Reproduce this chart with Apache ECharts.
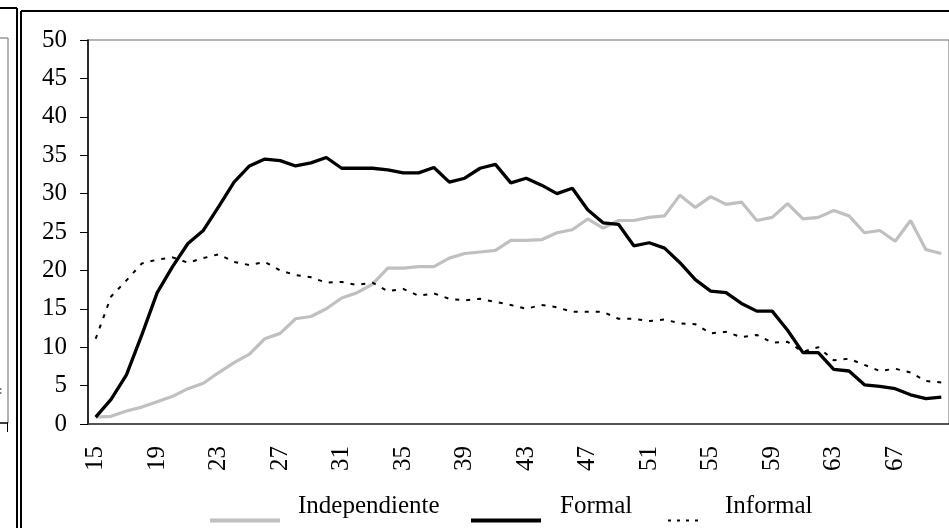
<!DOCTYPE html>
<html>
<head>
<meta charset="utf-8">
<title>Independiente / Formal / Informal por edad</title>
<script src="https://cdn.jsdelivr.net/npm/echarts@6/dist/echarts.min.js"></script>
<style>
  html, body { margin: 0; padding: 0; background: #fff; }
  #chart { width: 949px; height: 528px; }
</style>
</head>
<body>
<div id="chart"></div>
<script>
(function () {

    /* ============ datos (edad 15 a 70) ============ */

    var edades = [];
    for (var e = 15; e <= 70; e++) edades.push(String(e));

    var independiente = [
        0.9, 1.0, 1.7, 2.2, 2.9, 3.6, 4.6, 5.3, 6.7, 8.0,
        9.1, 11.1, 11.8, 13.7, 14.0, 15.0, 16.4, 17.1, 18.2, 20.3,
        20.3, 20.5, 20.5, 21.6, 22.2, 22.4, 22.6, 23.9, 23.9, 24.0,
        24.9, 25.3, 26.7, 25.5, 26.5, 26.5, 26.9, 27.1, 29.8, 28.2,
        29.6, 28.6, 28.9, 26.5, 26.9, 28.7, 26.7, 26.9, 27.8, 27.1,
        24.9, 25.2, 23.8, 26.5, 22.7, 22.2
    ];

    var formal = [
        0.9, 3.2, 6.4, 11.6, 17.1, 20.5, 23.5, 25.2, 28.3, 31.5,
        33.6, 34.5, 34.3, 33.6, 34.0, 34.7, 33.3, 33.3, 33.3, 33.1,
        32.7, 32.7, 33.4, 31.5, 32.0, 33.3, 33.8, 31.4, 32.0, 31.1,
        30.0, 30.7, 27.9, 26.2, 26.0, 23.2, 23.6, 22.9, 21.0, 18.8,
        17.3, 17.1, 15.7, 14.7, 14.7, 12.2, 9.3, 9.3, 7.1, 6.9,
        5.1, 4.9, 4.6, 3.8, 3.3, 3.5
    ];

    var informal = [
        11.1, 16.6, 18.7, 20.9, 21.4, 21.7, 21.0, 21.6, 22.1, 21.1,
        20.7, 21.1, 20.0, 19.4, 19.1, 18.4, 18.5, 18.1, 18.4, 17.3,
        17.6, 16.7, 17.0, 16.3, 16.1, 16.3, 15.9, 15.5, 15.0, 15.5,
        15.2, 14.6, 14.6, 14.6, 13.7, 13.7, 13.4, 13.6, 13.1, 13.0,
        11.8, 12.0, 11.3, 11.6, 10.6, 10.7, 9.4, 10.0, 8.3, 8.5,
        7.7, 6.9, 7.2, 6.7, 5.6, 5.4
    ];

    var FUENTE = "'Liberation Serif', 'Times New Roman', serif";
    var GRIS = '#c0c0c0';

    var myChart = echarts.init(document.getElementById('chart'), null, { renderer: 'canvas' });

    // trazos del marco (restos del panel vecino y doble borde)
    var marco = [
        { x1: 0, y1: 8, x2: 17, y2: 8, c: '#000', w: 2 },
        { x1: 17, y1: 8, x2: 17, y2: 528, c: '#000', w: 2 },
        { x1: 0, y1: 38, x2: 8, y2: 38, c: '#999', w: 1.5 },
        { x1: 8, y1: 38, x2: 8, y2: 423, c: '#999', w: 1.5 },
        { x1: 0, y1: 423, x2: 8, y2: 423, c: '#000', w: 1.5 },
        { x1: 7.5, y1: 423, x2: 7.5, y2: 432, c: '#000', w: 1 },
        { x1: 0, y1: 389, x2: 1.5, y2: 389, c: '#000', w: 1 },
        { x1: 0, y1: 393, x2: 1.5, y2: 393, c: '#000', w: 1 },
        { x1: 21, y1: 11, x2: 949, y2: 11, c: '#000', w: 2 },
        { x1: 21, y1: 11, x2: 21, y2: 528, c: '#000', w: 2 }
    ];

    var graficos = marco.map(function (m) {
        return {
            type: 'line',
            silent: true,
            shape: { x1: m.x1, y1: m.y1, x2: m.x2, y2: m.y2 },
            style: { stroke: m.c, lineWidth: m.w }
        };
    });

    // una leyenda por serie; el texto va subido respecto a la muestra de línea
    var leyenda = function (nombre, left, ancho, padIzq, linea) {
        return {
            data: [nombre],
            left: left,
            top: 494,
            itemWidth: ancho,
            itemHeight: 14,
            padding: 0,
            selectedMode: false,
            itemStyle: { opacity: 0, borderWidth: 0 },
            lineStyle: linea,
            formatter: '{t|{name}}',
            textStyle: {
                rich: {
                    t: {
                        fontFamily: FUENTE,
                        fontSize: 25,
                        color: '#000',
                        padding: [0, 0, 28, padIzq]
                    }
                }
            }
        };
    };

    var option = {
        animation: false,
        backgroundColor: '#fff',
        graphic: graficos,
        legend: [
            leyenda('Independiente', 208, 70, 13, { width: 4 }),
            leyenda('Formal', 469, 70, 14, { width: 4 }),
            leyenda('Informal', 667, 36, 16, { width: 2, type: [3, 6] })
        ],
        grid: {
            left: 88,
            top: 40,
            right: -4,
            bottom: 104,
            show: true,
            borderColor: '#9a9a9a',
            borderWidth: 1.5,
            backgroundColor: 'transparent'
        },
        xAxis: {
            type: 'category',
            data: edades,
            boundaryGap: true,
            axisLine: { lineStyle: { color: '#333', width: 1.5 } },
            axisTick: { interval: 0, length: 7, lineStyle: { color: '#000', width: 1 } },
            axisLabel: {
                interval: 3,
                rotate: 90,
                margin: 22,
                fontFamily: FUENTE,
                fontSize: 25,
                color: '#000'
            },
            splitLine: { show: false }
        },
        yAxis: {
            type: 'value',
            min: 0,
            max: 50,
            interval: 5,
            axisLine: { show: true, lineStyle: { color: '#000', width: 1.5 } },
            axisTick: { show: true, inside: false, length: 8, lineStyle: { color: '#000', width: 1 } },
            axisLabel: {
                margin: 21,
                fontFamily: FUENTE,
                fontSize: 25,
                color: '#000'
            },
            splitLine: { show: false }
        },
        series: [
            {
                name: 'Independiente',
                type: 'line',
                data: independiente,
                symbol: 'none',
                lineStyle: { color: GRIS, width: 3.2 },
                itemStyle: { color: GRIS }
            },
            {
                name: 'Formal',
                type: 'line',
                data: formal,
                symbol: 'none',
                lineStyle: { color: '#000', width: 3.3 },
                itemStyle: { color: '#000' }
            },
            {
                name: 'Informal',
                type: 'line',
                data: informal,
                symbol: 'none',
                lineStyle: { color: '#000', width: 2, type: [4, 7] },
                itemStyle: { color: '#000' }
            }
        ]
    };

    myChart.setOption(option);
}());
</script>
</body>
</html>
